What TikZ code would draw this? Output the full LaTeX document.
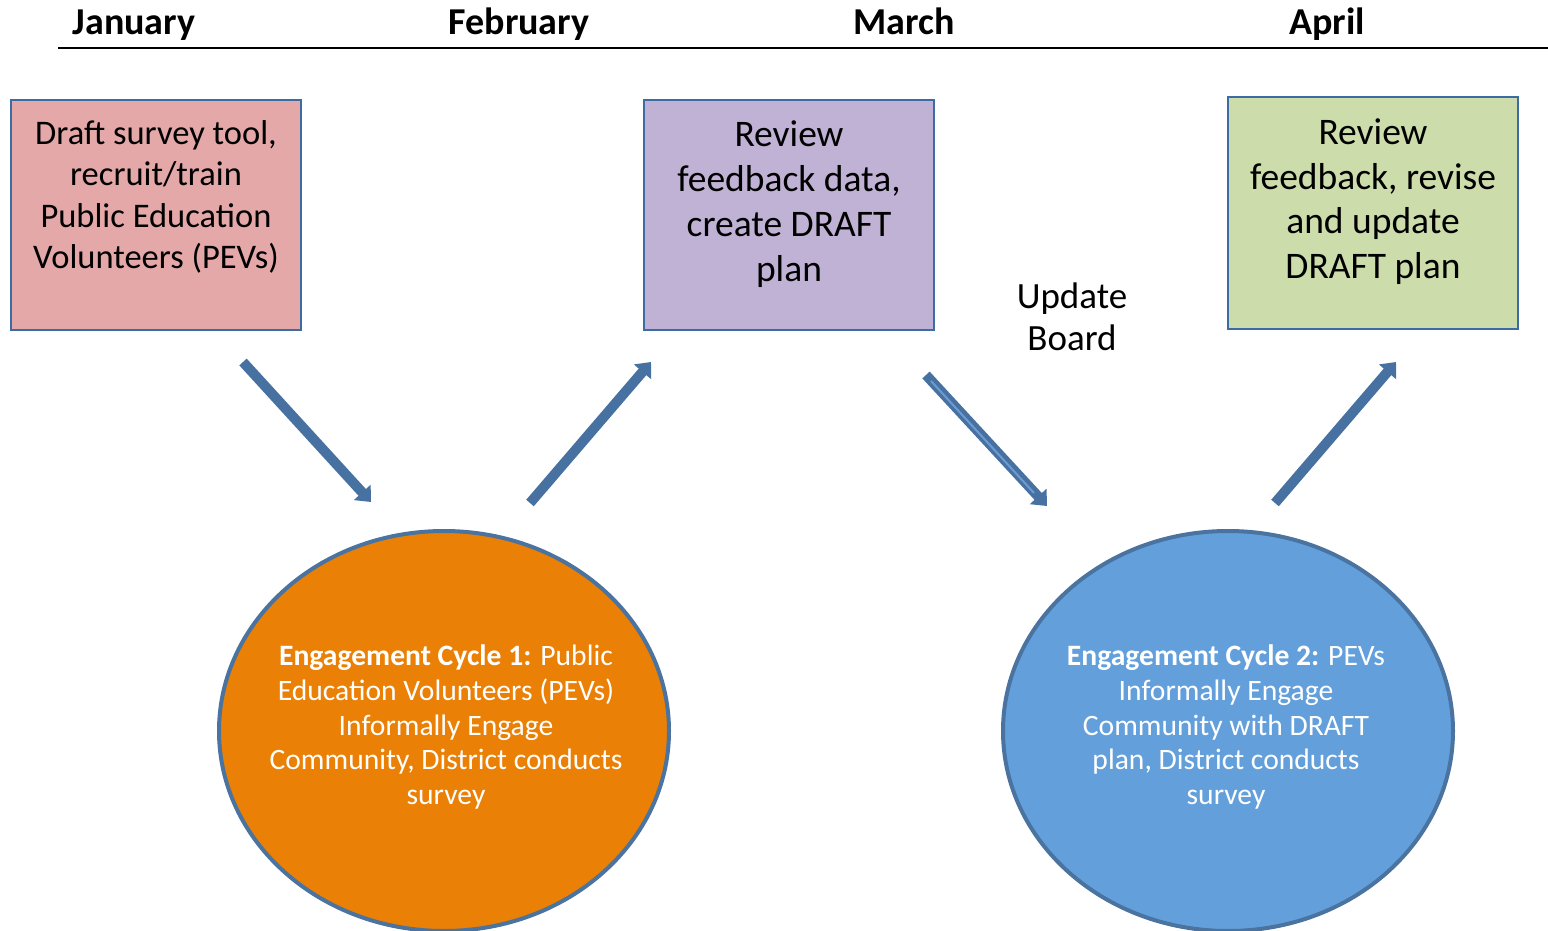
\documentclass[tikz,border=0pt]{standalone}
\usepackage{fontspec}
\setmainfont{Carlito}
\usetikzlibrary{arrows.meta,shapes.geometric}
\definecolor{edgeblue}{HTML}{3D6BA4}
\definecolor{arrowblue}{HTML}{4771A0}
\definecolor{arrowlight}{HTML}{6C9AD2}
\definecolor{pinkfill}{HTML}{E3A8A7}
\definecolor{purplefill}{HTML}{C0B2D4}
\definecolor{greenfill}{HTML}{CDDCAB}
\definecolor{orangefill}{HTML}{EA8005}
\definecolor{bluefill}{HTML}{63A0DB}
\definecolor{ringblue}{HTML}{4A73A0}
\tikzset{
  hdr/.style={font=\bfseries\fontsize{38}{44}\selectfont, inner sep=0, anchor=base},
  stagebox/.style={draw=edgeblue, line width=1.5, minimum width=290, minimum height=230, inner sep=0},
  boxtext/.style={align=center, inner sep=0},
  cycle/.style={draw=ringblue, line width=4, ellipse, minimum width=450, minimum height=400, inner sep=0},
  cycletext/.style={align=center, inner sep=0, text=white, font=\fontsize{29.6}{34.8}\selectfont},
  flow/.style={draw=arrowblue, line width=10, -{Triangle[length=13pt,width=22pt]}},
}
\begin{document}
\begin{tikzpicture}[x=1pt,y=-1pt]
\useasboundingbox (0,0) rectangle (1548,931);
\clip (0,0) rectangle (1548,931);
% headers
\node[hdr] (jan) at (134,34.5) {January};
\node[hdr] (feb) at (519,34.5) {February};
\node[hdr] (mar) at (904,34.5) {March};
\node[hdr] (apr) at (1327,34.5) {April};
\coordinate (lineA) at (58,48);
\coordinate (lineB) at (1548,48);
\draw[line width=2.5] (lineA) -- (lineB);
% boxes
\node[stagebox, fill=pinkfill] (b1) at (156,215) {};
\node[boxtext, font=\fontsize{34.5}{41.2}\selectfont] (t1) at (156,197) {Draft survey tool,\\recruit/train\\Public Education\\Volunteers (PEVs)};
\node[stagebox, fill=purplefill] (b2) at (789,215) {};
\node[boxtext, font=\fontsize{37.5}{45}\selectfont] (t2) at (789,204.5) {Review\\feedback data,\\create DRAFT\\plan};
\node[stagebox, fill=greenfill, minimum height=232] (b3) at (1373,213) {};
\node[boxtext, font=\fontsize{37.5}{44.7}\selectfont] (t3) at (1373,201.5) {Review\\feedback, revise\\and update\\DRAFT plan};
\node[boxtext, font=\fontsize{37}{42}\selectfont] (upd) at (1072,316.5) {Update\\Board};
% cycles
\node[cycle, fill=orangefill] (c1) at (444,731) {};
\node[cycletext] (ct1) at (446,727) {\textbf{Engagement Cycle 1:} Public\\Education Volunteers (PEVs)\\Informally Engage\\Community, District conducts\\survey};
\node[cycle, fill=bluefill] (c2) at (1228,731) {};
\node[cycletext] (ct2) at (1226,727) {\textbf{Engagement Cycle 2:} PEVs\\Informally Engage\\Community with DRAFT\\plan, District conducts\\survey};
% arrows
\coordinate (a1s) at (243,362); \coordinate (a1e) at (371,502);
\coordinate (a2s) at (530,503); \coordinate (a2e) at (651,362);
\coordinate (a3s) at (926,375); \coordinate (a3e) at (1047,506);
\coordinate (a4s) at (1275,503); \coordinate (a4e) at (1396,362);
\coordinate (a3ms) at (931,381); \coordinate (a3me) at (1034,493);
\draw[flow] (a1s) -- (a1e);
\draw[flow] (a2s) -- (a2e);
\draw[flow] (a3s) -- (a3e);
\draw[draw=arrowlight, line width=2] (a3ms) -- (a3me);
\draw[flow] (a4s) -- (a4e);
\end{tikzpicture}
\end{document}
